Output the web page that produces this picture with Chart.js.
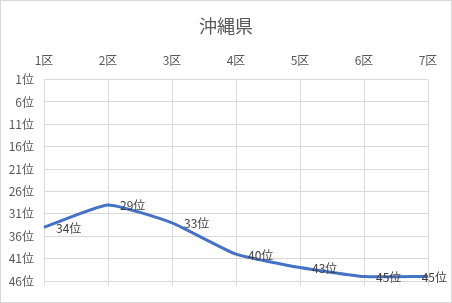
<!DOCTYPE html>
<html>
<head>
<meta charset="utf-8">
<script src="https://cdn.jsdelivr.net/npm/chart.js@4/dist/chart.umd.min.js"></script>
<style>
  html, body { margin: 0; padding: 0; background: #fff; }
  #wrap { width: 452px; height: 303px; }
</style>
</head>
<body>
<div id="wrap"><canvas id="chart"></canvas></div>
<script>
// data
const districts = ['1区', '2区', '3区', '4区', '5区', '6区', '7区'];
const ranks = [34, 29, 33, 40, 43, 45, 45];
const rankMin = 1;
const rankMax = 46;
const rankStep = 5;

Chart.defaults.font.family = '"Noto Sans CJK JP", "Noto Sans", sans-serif';
Chart.defaults.font.size = 12;
Chart.defaults.color = '#595959';

// white background + thin outer frame like the spreadsheet chart
const frame = {
    id: 'frame',
    beforeDraw(chart) {
        const ctx = chart.ctx;
        ctx.save();
        ctx.fillStyle = '#fff';
        ctx.fillRect(0, 0, chart.width, chart.height);
        ctx.strokeStyle = '#d9d9d9';
        ctx.lineWidth = 1;
        ctx.strokeRect(0.5, 0.5, chart.width - 1, chart.height - 1);
        ctx.restore();
    }
};

// vertical grid lines stick out a little below the plot
const gridTails = {
    id: 'gridTails',
    beforeDatasetsDraw(chart) {
        const ctx = chart.ctx;
        const x = chart.scales.x;
        const bottom = chart.chartArea.bottom;
        ctx.save();
        ctx.strokeStyle = '#d9d9d9';
        ctx.lineWidth = 1;
        x.ticks.forEach((t, i) => {
            const px = Math.round(x.getPixelForTick(i)) + 0.5;
            ctx.beginPath();
            ctx.moveTo(px, bottom);
            ctx.lineTo(px, bottom + 5);
            ctx.stroke();
        });
        ctx.restore();
    }
};

// value labels to the right of each point, kept inside the canvas
const pointLabels = {
    id: 'pointLabels',
    afterDatasetsDraw(chart) {
        const ctx = chart.ctx;
        const meta = chart.getDatasetMeta(0);
        ctx.save();
        ctx.font = '12px "Noto Sans CJK JP", sans-serif';
        ctx.fillStyle = '#404040';
        ctx.textAlign = 'left';
        ctx.textBaseline = 'middle';
        meta.data.forEach((pt, i) => {
            const txt = ranks[i] + '位';
            const w = ctx.measureText(txt).width;
            const x = Math.min(pt.x + 12, chart.width - w - 5);
            ctx.fillText(txt, x, pt.y + 1);
        });
        ctx.restore();
    }
};

new Chart(document.getElementById('chart').getContext('2d'), {
    type: 'line',
    data: {
        labels: districts,
        datasets: [{
            data: ranks,
            borderColor: '#4472C4',
            borderWidth: 3,
            pointRadius: 0,
            tension: 0.15,
            fill: false
        }]
    },
    options: {
        responsive: true,
        maintainAspectRatio: false,
        animation: false,
        layout: { padding: { left: 0, right: 0, top: 0, bottom: 22 } },
        plugins: {
            legend: { display: false },
            tooltip: { enabled: false },
            title: {
                display: true,
                text: '沖縄県',
                color: '#595959',
                font: { size: 18, weight: 'normal' },
                padding: { top: 15, bottom: 13 }
            }
        },
        scales: {
            x: {
                position: 'top',
                offset: false,
                grid: { color: '#d9d9d9', drawTicks: false },
                border: { display: false },
                ticks: { padding: 12, maxRotation: 0, color: '#595959' },
                afterFit(scale) { scale.height = 30; }
            },
            y: {
                reverse: true,
                min: rankMin,
                max: rankMax,
                grid: { color: '#d9d9d9', drawTicks: false },
                border: { display: false },
                ticks: {
                    stepSize: rankStep,
                    padding: 10,
                    color: '#595959',
                    callback: v => v + '位'
                },
                afterFit(scale) { scale.width = 44; }
            },
            // empty right-hand spacer so the title stays centred on the canvas
            yRight: {
                position: 'right',
                display: true,
                grid: { display: false },
                border: { display: false },
                ticks: { display: false },
                afterFit(scale) { scale.width = 24; }
            }
        }
    },
    plugins: [frame, gridTails, pointLabels]
});
</script>
</body>
</html>
